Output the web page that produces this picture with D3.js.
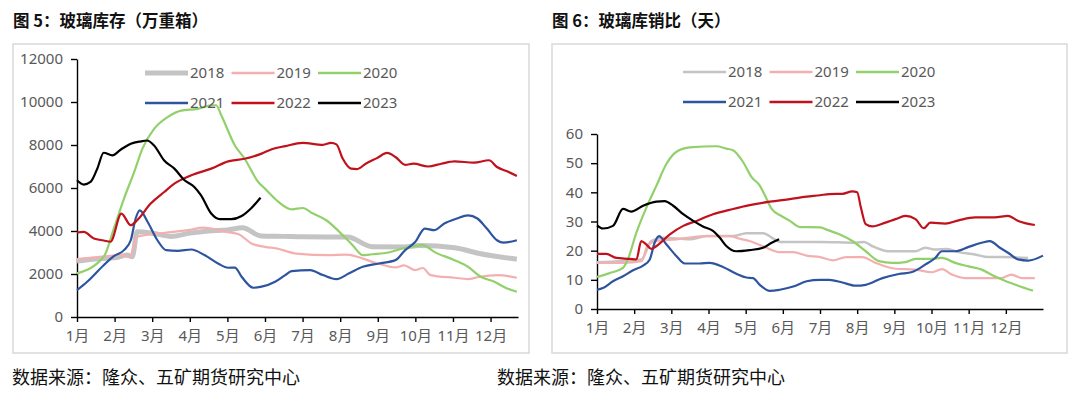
<!DOCTYPE html>
<html lang="zh">
<head>
<meta charset="UTF-8">
<title>玻璃库存与库销比</title>
<style>
body{margin:0;background:#fff;}
svg text{font-family:"Noto Sans CJK SC","Noto Sans",sans-serif;}
</style>
</head>
<body>
<svg id="chart" width="1080" height="395"></svg>
<script src="https://cdn.jsdelivr.net/npm/d3@7"></script>
<script>
// x values are month positions (0 = 1月 start)
var months = ['1月','2月','3月','4月','5月','6月','7月','8月','9月','10月','11月','12月'];
var years = ['2018','2019','2020','2021','2022','2023'];

// 图5 玻璃库存（万重箱）
var inv2018 = [[0,2600],[0.5,2700],[1.0,2750],[1.34,2880],[1.47,2800],[1.6,3960],[2.0,3900],[2.5,3750],[3.0,3900],[3.5,4000],[4.0,4050],[4.4,4150],[4.9,3770],[5.5,3750],[6.0,3730],[7.2,3720],[7.85,3270],[8.7,3260],[9.1,3330],[10.05,3220],[10.7,2950],[11.7,2690]];
var inv2019 = [[0,2690],[0.6,2800],[1.2,2880],[1.4,2800],[1.6,3730],[2.0,3850],[2.5,3950],[3.0,4050],[3.35,4160],[4.0,3950],[4.3,3850],[4.64,3420],[5.0,3260],[5.3,3190],[5.84,2950],[6.7,2880],[7.15,2900],[8.0,2490],[8.47,2305],[8.7,2400],[9.0,2180],[9.2,2280],[9.4,1950],[10.04,1825],[10.4,1765],[10.7,1870],[11.2,1950],[11.7,1825]];
var inv2020 = [[0,2030],[0.71,2800],[0.98,4110],[1.25,5510],[1.52,6740],[1.74,7830],[2.05,8750],[2.41,9300],[2.77,9600],[3.21,9680],[3.57,9840],[3.7,9850],[3.84,9370],[4.2,7980],[4.46,7360],[4.82,6280],[5.0,5970],[5.36,5350],[5.71,5010],[6.0,5070],[6.28,4810],[6.63,4500],[6.98,3960],[7.33,3340],[7.6,2880],[7.85,2920],[8.29,3000],[8.73,3220],[9.2,3340],[9.5,3030],[10.04,2645],[10.4,2335],[10.74,1870],[11.1,1640],[11.44,1330],[11.7,1175]];
var inv2021 = [[0,1250],[0.27,1640],[0.71,2410],[0.98,2830],[1.25,3110],[1.43,3570],[1.56,4580],[1.67,4960],[1.88,4420],[2.14,3570],[2.37,3110],[2.68,3080],[3.04,3140],[3.39,2880],[3.75,2490],[4.02,2290],[4.2,2300],[4.38,1870],[4.69,1360],[4.91,1410],[5.27,1640],[5.54,1950],[5.71,2130],[6.2,2180],[6.54,1950],[6.9,1760],[7.24,2030],[7.6,2335],[8.03,2490],[8.47,2645],[8.73,3110],[9.0,3500],[9.25,4115],[9.5,4040],[9.77,4350],[10.1,4580],[10.4,4730],[10.65,4580],[10.9,4115],[11.17,3570],[11.35,3460],[11.7,3570]];
var inv2022 = [[0,3930],[0.18,3960],[0.45,3650],[0.71,3560],[0.89,3500],[1.18,4810],[1.43,4270],[1.6,4500],[1.96,5275],[2.32,5815],[2.59,6200],[3.04,6590],[3.57,6900],[4.02,7240],[4.46,7360],[4.91,7600],[5.18,7800],[5.54,7950],[6.0,8100],[6.54,8010],[6.76,8100],[6.9,8030],[7.07,7360],[7.29,6900],[7.45,6880],[7.68,7130],[7.98,7390],[8.25,7630],[8.47,7440],[8.73,7080],[8.95,7130],[9.34,7000],[9.69,7130],[10.04,7240],[10.56,7180],[10.96,7290],[11.17,6975],[11.44,6775],[11.7,6560]];
var inv2023 = [[0,6360],[0.18,6160],[0.36,6280],[0.54,6900],[0.71,7640],[0.94,7520],[1.16,7780],[1.43,8060],[1.7,8170],[1.86,8210],[2.05,7980],[2.32,7280],[2.59,6900],[2.86,6360],[3.12,6050],[3.3,5660],[3.57,4810],[3.8,4550],[4.1,4550],[4.38,4700],[4.64,5070],[4.88,5550]];
var invTicks = [0,2000,4000,6000,8000,10000,12000];

// 图6 玻璃库销比（天）
var r2018 = [[0,16.0],[0.7,16.5],[1.2,17.0],[1.46,23.3],[1.78,24.4],[2.5,23.9],[2.94,25.0],[3.66,25.0],[4.02,26.0],[4.47,26.0],[4.7,24.5],[4.92,23.0],[6.0,23.0],[6.96,22.7],[7.19,23.0],[7.4,21.6],[7.85,19.8],[8.57,19.8],[8.83,21.0],[9.1,20.4],[9.41,20.6],[9.73,19.5],[10.17,18.7],[10.53,17.8],[10.88,17.8],[11.6,17.5]];
var r2019 = [[0,15.8],[0.7,15.8],[1.2,16.4],[1.37,22.1],[1.6,23.3],[2.14,23.9],[2.5,24.5],[2.94,25.0],[3.57,25.0],[3.84,24.1],[4.1,23.3],[4.56,21.0],[4.92,19.5],[5.28,19.5],[5.64,18.3],[6.0,17.8],[6.34,16.7],[6.7,17.8],[7.14,17.8],[7.5,15.8],[8.03,13.8],[8.57,13.5],[9.0,12.6],[9.28,13.7],[9.55,11.8],[9.9,10.6],[10.88,10.6],[11.15,11.8],[11.42,10.6],[11.78,10.6]];
var r2020 = [[0,11.0],[0.34,12.3],[0.7,14.1],[0.83,17.0],[1.06,26.2],[1.33,34.8],[1.6,42.3],[1.87,49.8],[2.14,53.9],[2.5,55.4],[3.21,55.8],[3.48,55.0],[3.66,54.4],[3.93,50.4],[4.16,45.2],[4.38,42.3],[4.52,38.9],[4.7,34.3],[4.96,31.9],[5.19,30.2],[5.46,28.1],[6.0,28.0],[6.16,27.3],[6.52,25.6],[6.87,23.3],[7.23,19.8],[7.59,16.4],[7.94,15.8],[8.3,16.1],[8.57,17.2],[9.0,17.2],[9.28,17.5],[9.64,15.8],[10.0,14.6],[10.35,13.5],[10.7,11.2],[10.97,9.7],[11.33,8.0],[11.73,6.3]];
var r2021 = [[0,6.6],[0.16,7.2],[0.43,9.5],[0.7,11.2],[0.97,13.3],[1.24,14.9],[1.42,17.0],[1.55,22.7],[1.67,25.0],[1.87,22.1],[2.14,18.1],[2.36,15.6],[2.76,15.6],[3.03,15.8],[3.39,14.4],[3.75,12.1],[4.02,10.8],[4.2,10.6],[4.38,8.3],[4.65,6.2],[4.92,6.6],[5.28,7.7],[5.64,9.5],[6.0,10.0],[6.25,10.0],[6.6,9.1],[6.96,8.0],[7.23,8.3],[7.68,10.6],[8.12,12.0],[8.48,12.7],[8.83,15.2],[9.1,17.5],[9.28,19.8],[9.64,19.8],[10.0,21.3],[10.35,22.7],[10.57,23.3],[10.84,21.0],[11.06,19.3],[11.33,17.0],[11.6,16.6],[12.0,18.3]];
var r2022 = [[0,18.9],[0.25,18.9],[0.52,17.5],[0.88,17.2],[1.06,17.0],[1.19,23.3],[1.33,22.1],[1.46,20.6],[1.6,21.6],[1.96,25.6],[2.32,28.5],[2.68,30.2],[3.12,32.5],[3.66,34.3],[4.11,35.6],[4.65,36.8],[5.19,37.7],[5.64,38.5],[6.0,39.0],[6.25,39.4],[6.6,39.5],[6.87,40.3],[7.0,40.0],[7.1,34.8],[7.23,29.1],[7.41,28.3],[7.76,29.6],[8.03,30.8],[8.3,31.9],[8.57,30.8],[8.79,27.7],[8.97,29.6],[9.37,29.3],[9.73,30.4],[10.17,31.4],[10.7,31.4],[11.06,31.9],[11.33,30.2],[11.78,28.8]];
var r2023 = [[0,28.7],[0.16,27.6],[0.43,28.5],[0.7,34.3],[0.92,33.4],[1.24,35.4],[1.6,36.8],[1.82,37.0],[2.05,35.4],[2.32,32.5],[2.59,30.2],[2.85,28.3],[3.12,26.8],[3.3,24.5],[3.48,21.6],[3.75,19.8],[4.11,20.2],[4.47,21.0],[4.7,22.7],[4.9,23.9]];
var ratioTicks = [0,10,20,30,40,50,60];

var colors = ['#c4c4c4','#f4b0b0','#92d06c','#2e54a0','#c0121c','#000000'];
var svg = d3.select('#chart');

function drawPanel(p){
	var g = svg.append('g');
	// panel frame
	g.append('rect')
		.attr('x',p.box[0]).attr('y',p.box[1])
		.attr('width',p.box[2]).attr('height',p.box[3])
		.style('fill','none').style('stroke','#d9d9d9').style('stroke-width',1.5);
	g.append('text')
		.attr('x',p.box[0]).attr('y',27)
		.style('font-size','16.5px').style('font-weight','bold').style('fill','#111')
		.text(p.title);
	g.append('text')
		.attr('x',p.srcX).attr('y',384)
		.style('font-size','18px').style('fill','#111')
		.text('数据来源：隆众、五矿期货研究中心');

	var x = d3.scaleLinear().domain([0,p.xMax]).range([p.left,p.right]);
	var y = d3.scaleLinear().domain([0,p.yMax]).range([p.bottom,p.top]);

	var yAxis = d3.axisLeft(y).tickValues(p.ticks).tickFormat(d3.format('d'))
		.tickSize(6).tickPadding(8).tickSizeOuter(0);
	var xAxis = d3.axisBottom(x).tickValues(d3.range(12)).tickFormat(function(d){return months[d];})
		.tickSize(5).tickPadding(8).tickSizeOuter(0);

	var ya = g.append('g').attr('transform','translate('+p.left+',0)').call(yAxis);
	var xa = g.append('g').attr('transform','translate(0,'+p.bottom+')').call(xAxis);
	[ya,xa].forEach(function(a){
		a.select('.domain').style('stroke','#000').style('stroke-width',1.4);
		a.selectAll('.tick line').style('stroke','#000').style('stroke-width',1.4);
		a.selectAll('.tick text').style('fill','#595959').style('font-size','15px')
			.style('font-family','"Noto Sans","Noto Sans CJK SC",sans-serif');
	});

	var line = d3.line()
		.x(function(d){return x(d[0]);})
		.y(function(d){return y(d[1]);})
		.curve(d3.curveMonotoneX);

	p.series.forEach(function(s,i){
		g.append('path')
			.datum(s)
			.attr('d',line)
			.style('fill','none')
			.style('stroke',colors[i])
			.style('stroke-width',i===0 ? p.grayWidth : 2.2)
			.style('stroke-linejoin','round');
	});

	// legend: 3 per row
	years.forEach(function(yr,i){
		var lx = p.legendX + (i%3)*86.5;
		var ly = p.legendY + Math.floor(i/3)*30;
		g.append('line')
			.attr('x1',lx).attr('x2',lx+43).attr('y1',ly).attr('y2',ly)
			.style('stroke',colors[i]).style('stroke-width',i===0 ? p.grayWidth : 2.5);
		g.append('text')
			.attr('x',lx+45).attr('y',ly).attr('dy','0.35em')
			.style('font-size','15px').style('fill','#595959')
			.style('font-family','"Noto Sans",sans-serif')
			.text(yr);
	});
}

drawPanel({
	title:'图 5：玻璃库存（万重箱）',
	box:[13,44,516,309], srcX:12,
	left:77, right:518, top:59, bottom:317,
	xMax:11.73, yMax:12000, ticks:invTicks,
	series:[inv2018,inv2019,inv2020,inv2021,inv2022,inv2023],
	grayWidth:5, legendX:145, legendY:73
});

drawPanel({
	title:'图 6：玻璃库销比（天）',
	box:[552,44,515,309], srcX:497,
	left:597, right:1043, top:134, bottom:309,
	xMax:12, yMax:60, ticks:ratioTicks,
	series:[r2018,r2019,r2020,r2021,r2022,r2023],
	grayWidth:2.5, legendX:683, legendY:72
});
</script>
</body>
</html>
